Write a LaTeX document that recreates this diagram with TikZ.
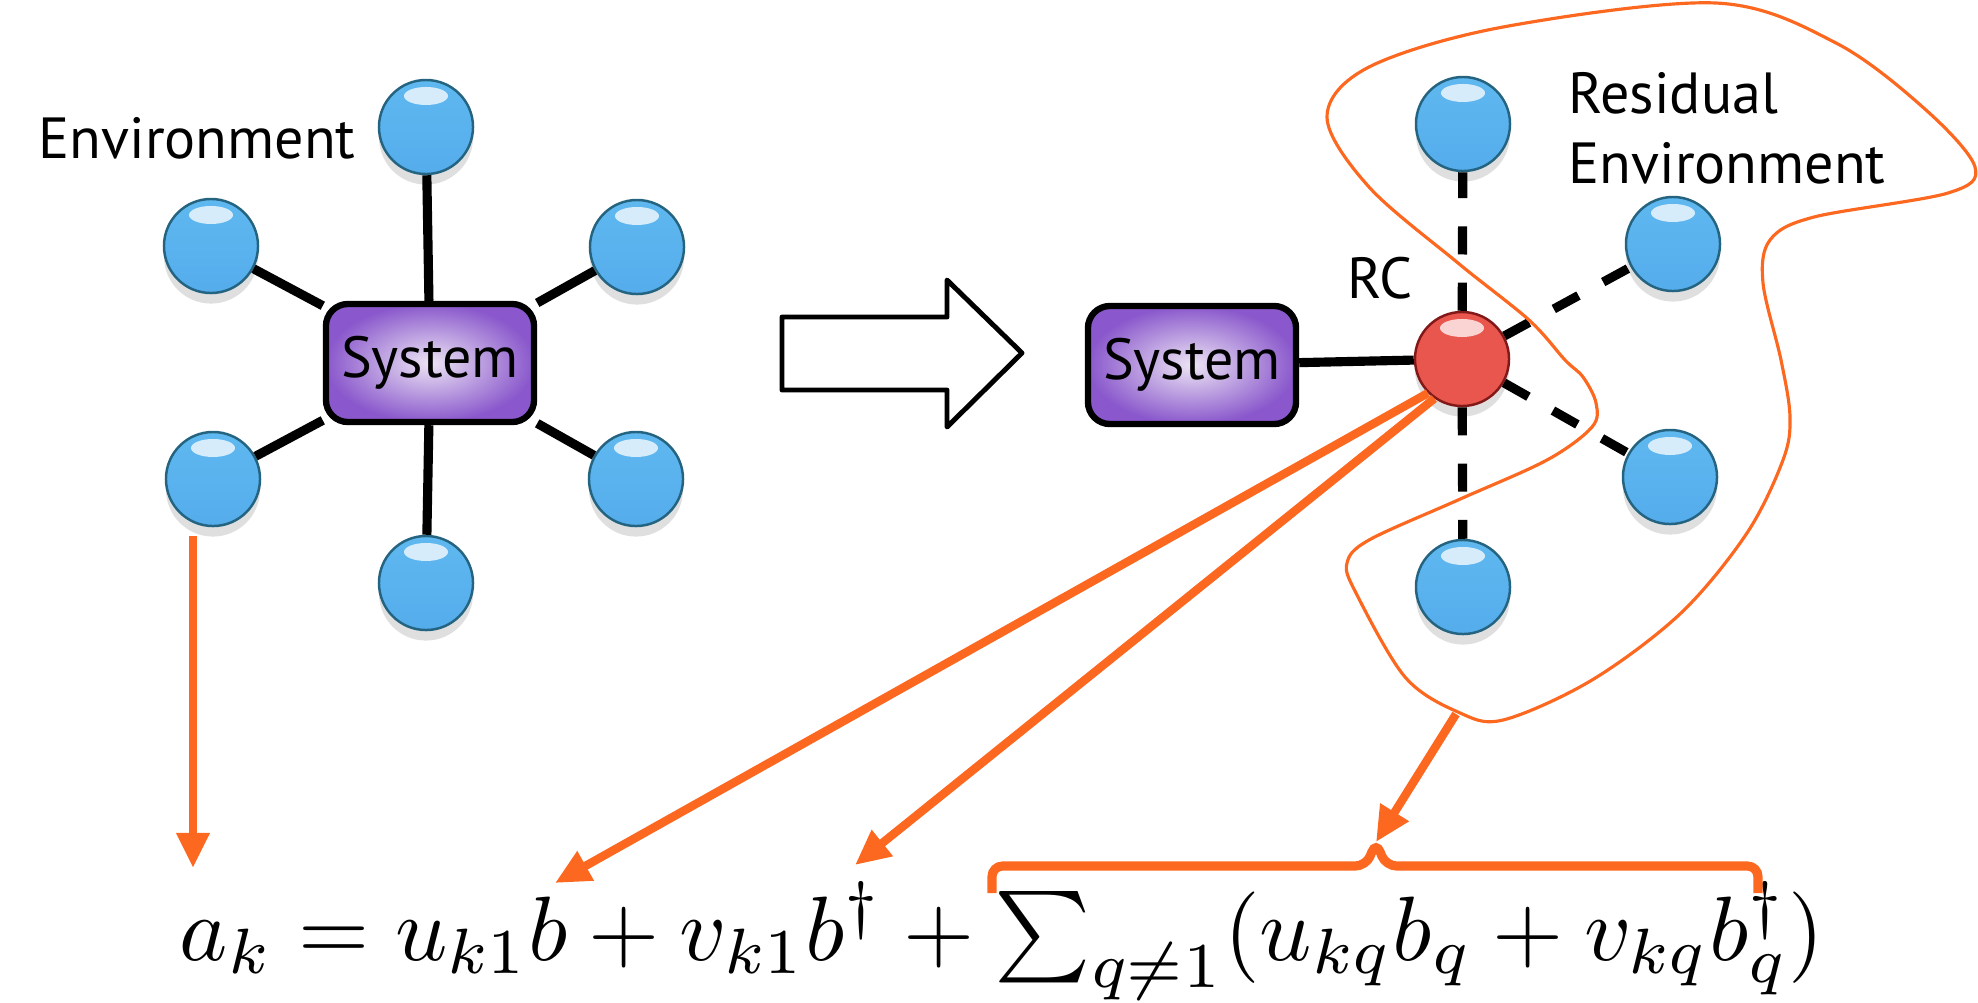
\documentclass[tikz,border=0pt]{standalone}
\usepackage{amsmath}
\usepackage{fontspec}
\setsansfont{PT Sans}
\usetikzlibrary{arrows.meta,shadows}

\definecolor{ornge}{RGB}{253,104,33}
\definecolor{ballblue}{RGB}{38,140,220}
\definecolor{balltop}{RGB}{96,184,240}
\definecolor{ballbot}{RGB}{84,172,236}
\definecolor{ballrim}{RGB}{36,100,128}
\definecolor{rcred}{RGB}{206,28,26}
\definecolor{rctop}{RGB}{232,86,78}
\definecolor{rcrim}{RGB}{130,24,24}
\definecolor{boxpurple}{RGB}{138,88,204}
\definecolor{boxlight}{RGB}{236,228,244}

\begin{document}
\begin{tikzpicture}[x=0.01cm,y=-0.01cm,
  bead/.style={circle,minimum size=0.94cm,inner sep=0,draw=ballrim,line width=0.7pt,
    top color=balltop,middle color=ballblue,bottom color=ballbot,
    drop shadow={opacity=0.25,shadow xshift=0pt,shadow yshift=-3pt},
    path picture={\fill[white,opacity=0.75] ([yshift=-0.16cm]path picture bounding box.north) ellipse (0.22cm and 0.09cm);}},
  rcbead/.style={bead,draw=rcrim,top color=rctop,middle color=rcred,bottom color=rctop},
  sysbox/.style={draw,line width=1.8pt,rounded corners=0.22cm,minimum width=2.08cm,minimum height=1.18cm,
    inner color=boxlight,outer color=boxpurple,font=\sffamily\fontsize{16.5}{19}\selectfont},
  lbl/.style={inner sep=0,anchor=base west,font=\sffamily\fontsize{16.5}{19}\selectfont},
  link/.style={line width=2.6pt},
  dlink/.style={line width=2.6pt,dash pattern=on 8pt off 8pt},
  oarrow/.style={draw=ornge,line width=2.4pt,-{Triangle[length=10pt,width=9pt]}}]
\useasboundingbox (0,0) rectangle (1978,1002);

% full coupling
\node[sysbox] (sysL) at (430,363) {System};
\foreach \n/\x/\y in {e1/426/127, e2/211/246, e3/637/247, e4/213/479, e5/636/479, e6/426/583}
  \node[bead] (\n) at (\x,\y) {};
\foreach \n in {e1,e2,e3,e4,e5,e6}
  \draw[link] (sysL) -- (\n);
\node[lbl] (envL) at (38,158) {Environment};

% big arrow
\draw[line width=1.4pt,line join=round]
  (782,317) -- (947,317) -- (947,280) -- (1022,353) -- (947,427) -- (947,390) -- (782,390) -- cycle;

% reaction coordinate
\node[sysbox] (sysR) at (1192,365) {System};
\node[rcbead] (rc) at (1462,359) {};
\draw[link] (sysR) -- (rc);
\node[lbl] (rclbl) at (1347,298) {RC};
\foreach \n/\x/\y in {r1/1463/124, r2/1673/244, r3/1670/477, r4/1463/587}
{
  \node[bead] (\n) at (\x,\y) {};
  \draw[dlink] (rc) -- (\n);
}
\node[lbl] (res1) at (1568,113) {Residual};
\node[lbl] (res2) at (1568,183) {Environment};

% residual environment
\draw[ornge,line width=0.9pt] plot[smooth cycle,tension=0.55] coordinates {
  (1716,3) (1836,43) (1926,110) (1975,167) (1948,193) (1814,217) (1770,240)
  (1763,283) (1781,360) (1790,417) (1783,460) (1747,533) (1681,613) (1592,680)
  (1503,720) (1458,712) (1405,677) (1356,593) (1347,563) (1369,540) (1458,500)
  (1547,460) (1592,427) (1596,403) (1583,377) (1565,360) (1529,320) (1458,263)
  (1369,187) (1327,117) (1369,67) (1503,27)};

% formula
\node[anchor=base west,inner sep=0,scale=2.6] (frm) at (178,960)
  {$a_k = u_{k1}b + v_{k1}b^\dagger + \sum_{q\neq 1}(u_{kq}b_q + v_{kq}b_q^\dagger)$};
\coordinate (envout) at (193,536);
\coordinate (tipak) at (193,868);
\coordinate (tipb) at (555,883);
\coordinate (tipbd) at (855,865);
\coordinate (blobout) at (1456,714);
\coordinate (bracetop) at (1376,842);
\draw[oarrow] (envout) -- (tipak);
\draw[oarrow] (rc.225) -- (tipb);
\draw[oarrow] (rc.235) -- (tipbd);
\draw[oarrow] (blobout) -- (bracetop);
\draw[ornge,line width=2.6pt,rounded corners=3pt]
  (992,893) -- (992,866) -- (1366,866) -- (1376,842) -- (1386,866) -- (1758,866) -- (1758,893);
\end{tikzpicture}
\end{document}
